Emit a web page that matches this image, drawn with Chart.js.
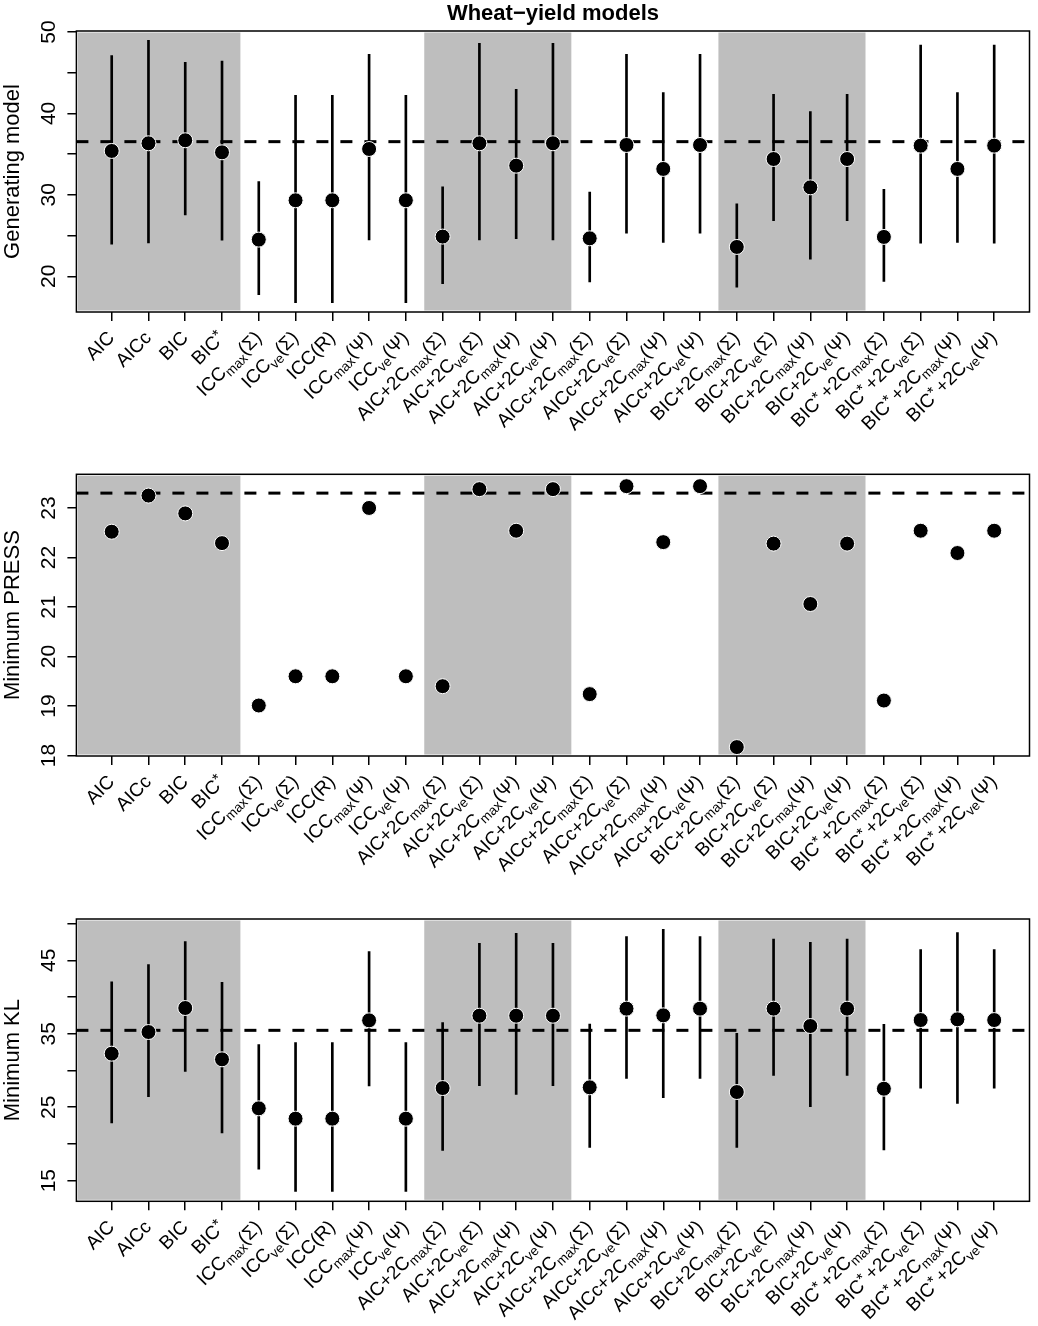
<!DOCTYPE html>
<html>
<head>
<meta charset="utf-8">
<script src="https://cdn.jsdelivr.net/npm/chart.js@4.4.1/dist/chart.umd.min.js"></script>
<style>
html, body { margin: 0; padding: 0; background: #fff; }
#wrap { position: relative; width: 1038px; height: 1326px; }
#wrap canvas { position: absolute; left: 0; }
</style>
</head>
<body>
<div id="wrap"></div>
<script>
// category labels, _{} = subscript, ^{} = superscript
const categories = [
  'AIC', 'AICc', 'BIC', 'BIC^{*}',
  'ICC_{max}(Σ)', 'ICC_{ve}(Σ)', 'ICC(R)', 'ICC_{max}(Ψ)', 'ICC_{ve}(Ψ)',
  'AIC+2C_{max}(Σ)', 'AIC+2C_{ve}(Σ)', 'AIC+2C_{max}(Ψ)', 'AIC+2C_{ve}(Ψ)',
  'AICc+2C_{max}(Σ)', 'AICc+2C_{ve}(Σ)', 'AICc+2C_{max}(Ψ)', 'AICc+2C_{ve}(Ψ)',
  'BIC+2C_{max}(Σ)', 'BIC+2C_{ve}(Σ)', 'BIC+2C_{max}(Ψ)', 'BIC+2C_{ve}(Ψ)',
  'BIC^{*}+2C_{max}(Σ)', 'BIC^{*}+2C_{ve}(Σ)', 'BIC^{*}+2C_{max}(Ψ)', 'BIC^{*}+2C_{ve}(Ψ)'
];
// sizes of the shaded / unshaded groups
const groupSizes = [4, 5, 4, 4, 4, 4];

// panel 1: generating model
const genMid = [35.39, 36.33, 36.70, 35.22, 24.50, 29.33, 29.33, 35.63, 29.33, 24.87, 36.33, 33.58, 36.33,
  24.66, 36.12, 33.18, 36.12, 23.60, 34.40, 30.92, 34.40, 24.83, 36.04, 33.18, 36.04];
const genLo = [23.93, 24.09, 27.53, 24.42, 17.74, 16.76, 16.76, 24.46, 16.76, 19.09, 24.46, 24.62, 24.46,
  19.30, 25.28, 24.17, 25.28, 18.65, 26.83, 22.09, 26.83, 19.38, 24.05, 24.17, 24.05];
const genHi = [47.09, 48.98, 46.27, 46.44, 31.62, 42.22, 42.22, 47.26, 42.22, 30.97, 48.61, 42.96, 48.61,
  30.35, 47.26, 42.55, 47.26, 28.88, 42.35, 40.22, 42.35, 30.68, 48.40, 42.55, 48.40];
const genRef = 36.53;
const genTicks = [20, 25, 30, 35, 40, 45, 50];
const genTickLabels = [20, 30, 40, 50];

// panel 2: minimum PRESS
const pressVal = [22.52, 23.25, 22.89, 22.29, 19.01, 19.60, 19.60, 23.00, 19.60, 19.40, 23.38, 22.54, 23.38,
  19.24, 23.44, 22.31, 23.44, 18.17, 22.28, 21.06, 22.28, 19.11, 22.54, 22.09, 22.54];
const pressRef = 23.30;
const pressTicks = [18, 19, 20, 21, 22, 23];
const pressTickLabels = [18, 19, 20, 21, 22, 23];

// panel 3: minimum KL
const klMid = [32.29, 35.24, 38.51, 31.52, 24.85, 23.44, 23.44, 36.83, 23.44, 27.61, 37.46, 37.46, 37.46,
  27.71, 38.42, 37.51, 38.42, 27.07, 38.42, 36.06, 38.42, 27.52, 36.87, 36.97, 36.87];
const klLo = [22.85, 26.43, 29.88, 21.49, 16.58, 13.54, 13.54, 27.89, 13.54, 19.13, 27.93, 26.75, 27.93,
  19.53, 28.93, 26.30, 28.93, 19.53, 29.34, 25.07, 29.34, 19.17, 27.61, 25.53, 27.61];
const klHi = [42.09, 44.41, 47.54, 42.00, 33.52, 33.79, 33.79, 46.18, 33.79, 36.51, 47.32, 48.68, 47.32,
  36.33, 48.22, 49.22, 48.22, 35.06, 47.91, 47.45, 47.91, 36.28, 46.45, 48.77, 46.45];
const klRef = 35.47;
const klTicks = [15, 20, 25, 30, 35, 40, 45, 50];
const klTickLabels = [15, 25, 35, 45];

const FONT = "'Liberation Sans', Arial, Helvetica, sans-serif";
const XMIN = 0.04, XMAX = 25.96;

function parseLabel(s) {
  return s.split(/(_\{[^}]*\}|\^\{[^}]*\})/).filter(Boolean).map(p => {
    if (p[0] === '_') return { t: p.slice(2, -1), k: 'sub' };
    if (p[0] === '^') return { t: p.slice(2, -1), k: 'sup' };
    return { t: p, k: 'n' };
  });
}

const rPlot = {
  id: 'rPlot',
  beforeDatasetsDraw(chart) {
    const { ctx, chartArea: a, scales: { x } } = chart;
    ctx.save();
    ctx.fillStyle = '#bebebe';
    let start = 0;
    groupSizes.forEach((n, g) => {
      let x0 = x.getPixelForValue(start + 0.5);
      let x1 = x.getPixelForValue(start + n + 0.5);
      if (g === 0) x0 = a.left + 1.5;
      if (g === groupSizes.length - 1) x1 = a.right - 1.5;
      if (g % 2 === 0) ctx.fillRect(x0, a.top + 1.5, x1 - x0, a.bottom - a.top - 3);
      start += n;
    });
    ctx.restore();
  },
  afterDraw(chart, args, opts) {
    const { ctx, chartArea: a, scales: { x, y } } = chart;
    ctx.save();
    ctx.strokeStyle = '#000';
    ctx.lineWidth = 1.5;
    ctx.strokeRect(a.left, a.top, a.right - a.left, a.bottom - a.top);
    ctx.fillStyle = '#000';

    // y tick labels, parallel to the axis
    ctx.font = '21px ' + FONT;
    ctx.textAlign = 'center';
    ctx.textBaseline = 'alphabetic';
    opts.yLabels.forEach(v => {
      ctx.save();
      ctx.translate(a.left - 21, y.getPixelForValue(v));
      ctx.rotate(-Math.PI / 2);
      ctx.fillText(String(v), 0, 0);
      ctx.restore();
    });

    // x labels at 45 degrees with sub/superscripts
    ctx.textAlign = 'left';
    const big = 19, small = 13.5, supSize = 16;
    const sizeOf = k => k === 'n' ? big : (k === 'sup' ? supSize : small);
    categories.forEach((lab, i) => {
      const segs = parseLabel(lab);
      let total = 0;
      segs.forEach((s, j) => {
        ctx.font = sizeOf(s.k) + 'px ' + FONT;
        s.w = ctx.measureText(s.t).width;
        if (s.k === 'sup' && j < segs.length - 1) s.w += 3;
        total += s.w;
      });
      ctx.save();
      ctx.translate(x.getPixelForValue(i + 1) - 1, a.bottom + 22);
      ctx.rotate(-Math.PI / 4);
      let cx = -total;
      const base = 0.36 * big;
      segs.forEach(s => {
        ctx.font = sizeOf(s.k) + 'px ' + FONT;
        let dy = base;
        if (s.k === 'sub') dy = base + 4.5;
        if (s.k === 'sup') dy = base - 4;
        ctx.fillText(s.t, cx, dy);
        cx += s.w;
      });
      ctx.restore();
    });

    if (opts.title) {
      ctx.font = 'bold 22px ' + FONT;
      ctx.textAlign = 'center';
      ctx.fillText(opts.title, (a.left + a.right) / 2, 20);
    }
    ctx.restore();
  }
};

function makePanel(p) {
  const canvas = document.createElement('canvas');
  canvas.width = 1038;
  canvas.height = 442;
  canvas.style.top = p.top + 'px';
  document.getElementById('wrap').appendChild(canvas);

  const datasets = [
    {
      type: 'scatter',
      data: p.mid.map((v, i) => ({ x: i + 1, y: v })),
      pointRadius: 7.5,
      pointBackgroundColor: '#000',
      pointBorderColor: '#fff',
      pointBorderWidth: 1
    }
  ];
  if (p.lo) {
    datasets.push({
      type: 'bar',
      data: p.mid.map((v, i) => ({ x: i + 1, y: [p.lo[i], p.hi[i]] })),
      backgroundColor: '#000',
      borderWidth: 0,
      barThickness: 2,
      grouped: false
    });
  }
  datasets.push({
    type: 'line',
    data: [{ x: XMIN, y: p.ref }, { x: XMAX, y: p.ref }],
    borderColor: '#000',
    borderWidth: 3,
    borderDash: [12, 12],
    pointRadius: 0,
    fill: false
  });

  const gridOpts = {
    drawOnChartArea: false, drawTicks: true, tickLength: 9,
    color: '#000', lineWidth: 1.5, offset: false
  };

  return new Chart(canvas, {
    type: 'scatter',
    data: { datasets },
    options: {
      responsive: false,
      devicePixelRatio: 1,
      animation: false,
      events: [],
      layout: { padding: { top: p.areaTop, left: 0, right: 4.7, bottom: 0 } },
      plugins: {
        legend: { display: false },
        tooltip: { enabled: false },
        rPlot: { yLabels: p.yLabels, title: p.title }
      },
      scales: {
        x: {
          type: 'linear', min: XMIN, max: XMAX, offset: false,
          grid: gridOpts, border: { display: false },
          ticks: { display: false, autoSkip: false },
          afterBuildTicks: s => { s.ticks = categories.map((c, i) => ({ value: i + 1 })); },
          afterFit: s => { s.height = 442 - p.areaBottom; }
        },
        y: {
          type: 'linear', min: p.ymin, max: p.ymax,
          grid: gridOpts, border: { display: false },
          ticks: { display: false },
          afterBuildTicks: s => { s.ticks = p.yTicks.map(v => ({ value: v })); },
          afterFit: s => { s.width = 76.4; },
          title: { display: true, text: p.ylab, color: '#000', font: { size: 22, family: FONT }, padding: 0 }
        }
      }
    },
    plugins: [rPlot]
  });
}

makePanel({
  top: 0, areaTop: 31, areaBottom: 312, ymin: 15.61, ymax: 50.12,
  mid: genMid, lo: genLo, hi: genHi, ref: genRef,
  yTicks: genTicks, yLabels: genTickLabels, ylab: 'Generating model',
  title: 'Wheat\u2212yield models'
});
makePanel({
  top: 442, areaTop: 32.3, areaBottom: 314, ymin: 17.99, ymax: 23.68,
  mid: pressVal, ref: pressRef,
  yTicks: pressTicks, yLabels: pressTickLabels, ylab: 'Minimum PRESS'
});
makePanel({
  top: 884, areaTop: 35, areaBottom: 317.3, ymin: 12.19, ymax: 50.63,
  mid: klMid, lo: klLo, hi: klHi, ref: klRef,
  yTicks: klTicks, yLabels: klTickLabels, ylab: 'Minimum KL'
});
</script>
</body>
</html>
